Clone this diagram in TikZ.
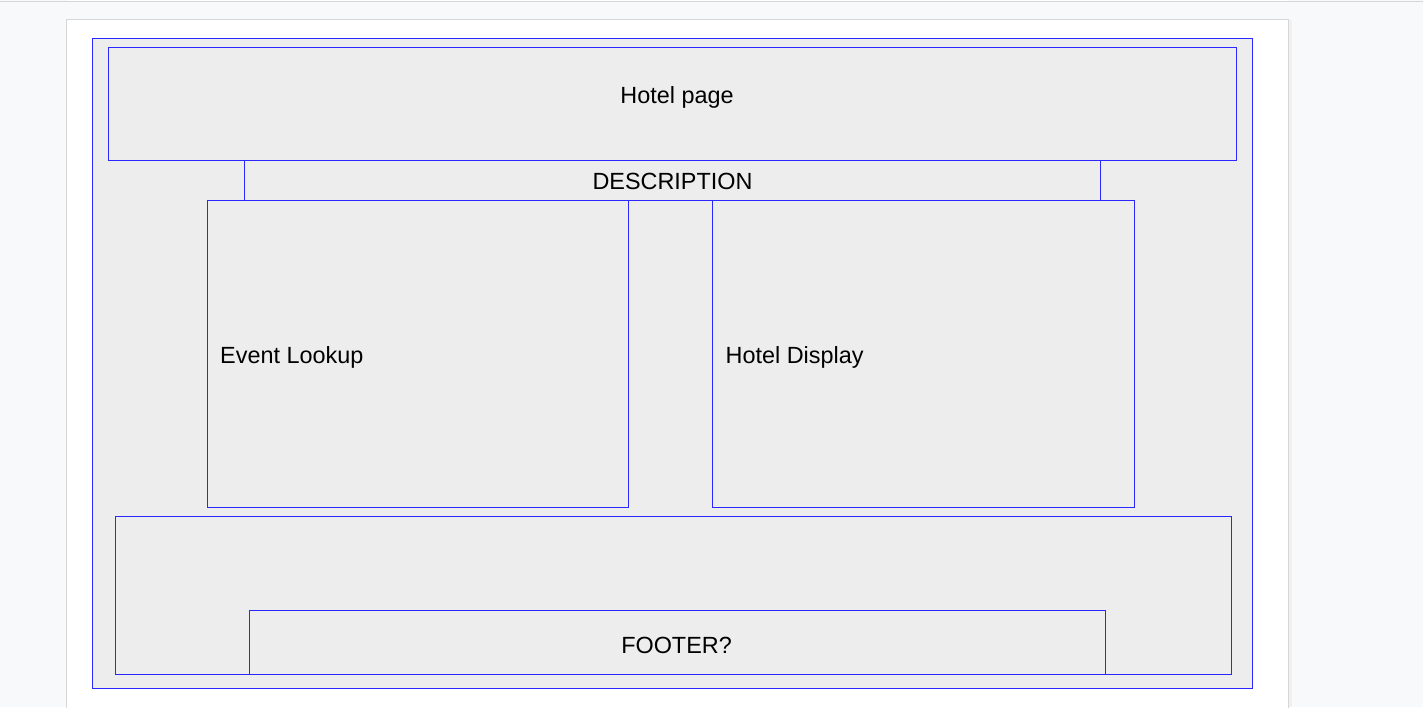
\documentclass[tikz,border=0pt]{standalone}
\usepackage{fontspec}
\setmainfont{Liberation Sans}
\definecolor{canvas}{HTML}{F8F9FA}
\definecolor{pageedge}{HTML}{D6D6D6}
\definecolor{panel}{HTML}{EDEDED}
\definecolor{frame}{RGB}{40,40,255}
\begin{document}
\begin{tikzpicture}[x=1pt,y=-1pt,
  box/.style={preaction={fill=panel}, draw=frame, line width=1.3pt, inner sep=0pt, outer sep=0pt, anchor=north west},
  lbl/.style={inner sep=0pt, font=\fontsize{23.4}{27}\selectfont, text=black}]
  % canvas and sheet
  \useasboundingbox (0,0) rectangle (1423,707);
  \fill[canvas] (0,0) rectangle (1423,707);
  \fill[white] (67,0) rectangle (1288,1);
  \draw[pageedge, line width=1pt] (0,1.5) -- (1423,1.5);
  \fill[black!6] (1289,20) rectangle (1292,707);
  \filldraw[fill=white, draw=pageedge, line width=1pt] (66.5,710) -- (66.5,19) -- (1288.5,19) -- (1288.5,710);
  % outer container
  \node[box, minimum width=1160pt, minimum height=650pt] (outer) at (92.5,38.5) {};
  % header
  \node[box, minimum width=1128pt, minimum height=113pt] (hotelpage) at (108.5,47.5) {};
  \node[lbl, anchor=base] (hotelpagetxt) at (677,103) {Hotel page};
  % description strip
  \node[box, minimum width=856pt, minimum height=40pt] (desc) at (244.5,160.5) {};
  \node[lbl, anchor=base] (desctxt) at (672.5,189.2) {DESCRIPTION};
  % two content panels
  \node[box, minimum width=421pt, minimum height=307pt] (events) at (207.5,200.5) {};
  \node[lbl, anchor=base west] (eventstxt) at (220,363) {Event Lookup};
  \node[box, minimum width=422pt, minimum height=307pt] (hotels) at (712.5,200.5) {};
  \node[lbl, anchor=base west] (hotelstxt) at (725.5,363) {Hotel Display};
  % bottom area with footer
  \node[box, minimum width=1116pt, minimum height=158pt] (bottom) at (115.5,516.5) {};
  \node[box, minimum width=856pt, minimum height=64pt] (footer) at (249.5,610.5) {};
  \node[lbl, anchor=base] (footertxt) at (676.5,653.3) {FOOTER?};
\end{tikzpicture}
\end{document}
